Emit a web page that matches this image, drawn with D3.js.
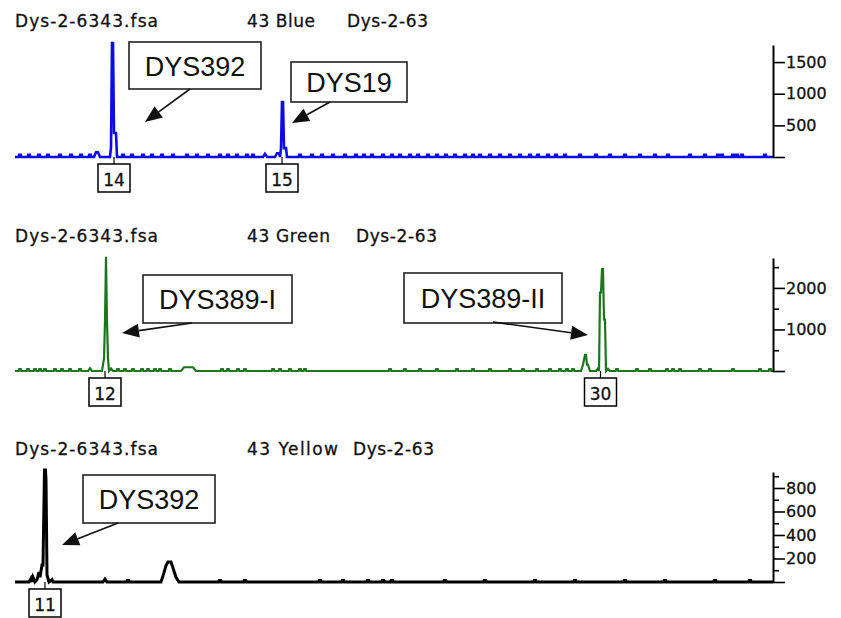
<!DOCTYPE html>
<html><head><meta charset="utf-8">
<script src="https://cdn.jsdelivr.net/npm/d3@7"></script>
<style>body{margin:0;background:#fff}</style>
</head><body><svg id="c" width="841" height="618"></svg>
<script>
// ---------------- DATA ----------------
const fileName = "Dys-2-6343.fsa";
const sampleName = "Dys-2-63";
const dyeNames = ["43 Blue", "43 Green", "43 Yellow"];

const blueMajorTicks = [500, 1000, 1500];
const blueMinorTicks = [];
const greenMajorTicks = [1000, 2000];
const greenMinorTicks = [500, 1500, 2500];
const yellowMajorTicks = [200, 400, 600, 800];
const yellowMinorTicks = [100, 300, 500, 700, 900];

const blueMax = 1770, greenMax = 2720, yellowMax = 936;
const scanMax = 758;

// peak groups: [scan, rfu]
const bluePeaks = [
  [[79,0],[81,75],[83,75],[85,0]],
  [[95,0],[96,150],[97,1800],[98,1800],[99,380],[101,380],[102,0]],
  [[248,0],[250,50],[252,0]],
  [[260,0],[262,60],[264,60],[265,0],[266,140],[267,870],[268,870],[269,140],[271,140],[272,0]]
];
const blueBlips = [5,14,24,33,45,56,66,75,108,117,128,137,147,158,172,182,193,205,213,222,232,238,
  285,297,307,318,330,341,349,357,368,377,385,395,403,413,422,431,440,450,458,465,475,485,495,505,515,
  523,533,541,550,565,581,595,610,625,640,653,675,690,703,707,718,722,727,750];

const greenPeaks = [
  [[73,0],[75,70],[77,0]],
  [[87,0],[89,300],[90,1190],[91,2750],[92,1190],[93,300],[94,0],[96,60],[98,0]],
  [[166,0],[169,90],[178,90],[181,0]],
  [[566,0],[568,150],[570,390],[571,390],[572,150],[573,150],[575,0]],
  [[581,0],[583,60],[584,0],[585,1890],[586,1890],[587,2450],[588,2450],[589,1240],[590,1240],[591,0],[593,50],[595,0]]
];
const greenBlips = [5,13,20,25,30,40,47,55,65,103,110,118,127,133,140,145,155,207,213,223,230,258,265,275,285,290,
  375,390,405,422,442,458,475,495,508,522,535,545,552,558,602,622,635,652,658,665,685,695,718,745,755];

const yellowPeaks = [
  [[14,0],[16,30],[17,0],[18,40],[20,0],[22,20],[24,85],[25,40],[27,145],[28,145],[29.5,953],[30.5,953],[31,870],[32,60],[34,0],[37,20],[38,0]],
  [[88,0],[90,25],[92,0]],
  [[146,0],[149,80],[151,140],[153,170],[156,170],[158,120],[161,40],[164,0]]
];
const yellowBlips = [113,205,230,305,328,353,368,377,430,470,520,560,610,650,700,735];

const blueAlleles = [{scan: 99, call: "14"}, {scan: 267, call: "15"}];
const greenAlleles = [{scan: 90, call: "12"}, {scan: 585.5, call: "30"}];
const yellowAlleles = [{scan: 30, call: "11"}];

const blueLoci = ["DYS392", "DYS19"];
const greenLoci = ["DYS389-I", "DYS389-II"];
const yellowLoci = ["DYS392"];

// ---------------- LAYOUT ----------------
const svg = d3.select("#c");
const x = d3.scaleLinear().domain([0, scanMax]).range([15, 773]);

const panels = [
  {dye: dyeNames[0], color: "#0c0ce6", sw: 2.6, max: blueMax, major: blueMajorTicks, minor: blueMinorTicks,
   peaks: bluePeaks, blips: blueBlips, blipVal: 35, alleles: blueAlleles, loci: blueLoci,
   base: 157, top: 45, titleY: 27, dyeLen: 68, sampleX: 347,
   boxes: [{x:129,y:42,w:132,h:47,a:[190,89,145,122]},{x:291,y:62,w:116,h:40,a:[330,102,292,123]}]},
  {dye: dyeNames[1], color: "#1c761c", sw: 2.2, max: greenMax, major: greenMajorTicks, minor: greenMinorTicks,
   peaks: greenPeaks, blips: greenBlips, blipVal: 45, alleles: greenAlleles, loci: greenLoci,
   base: 371, top: 258, titleY: 242, dyeLen: 83, sampleX: 356,
   boxes: [{x:143,y:275,w:149,h:48,a:[192,323,122,333]},{x:404,y:273,w:158,h:50,a:[493,322,588,335]}]},
  {dye: dyeNames[2], color: "#000000", sw: 3, max: yellowMax, major: yellowMajorTicks, minor: yellowMinorTicks,
   peaks: yellowPeaks, blips: yellowBlips, blipVal: 12, alleles: yellowAlleles, loci: yellowLoci,
   base: 582, top: 472, titleY: 455, dyeLen: 91, sampleX: 353,
   boxes: [{x:83,y:475,w:132,h:48,a:[118,523,62,545]}]}
];

function buildTrace(peaks, blips, v) {
  const pts = [[0,0],[scanMax,0]];
  peaks.forEach(g => g.forEach(p => pts.push(p)));
  const ranges = peaks.map(g => [g[0][0]-2, g[g.length-1][0]+2]);
  blips.forEach(b => {
    if (ranges.some(r => b >= r[0] && b <= r[1])) return;
    pts.push([b-1.3,0],[b-0.8,v],[b+0.8,v],[b+1.3,0]);
  });
  pts.sort((a,b) => a[0]-b[0]);
  return pts;
}

const titleFont = "DejaVu Sans, sans-serif";

panels.forEach(p => {
  const g = svg.append("g");
  const y = d3.scaleLinear().domain([0, p.max]).range([p.base, p.top]);

  // titles
  const t = g.append("g").attr("font-family", titleFont).attr("font-size", 17).attr("fill", "#111")
    .attr("stroke", "#111").attr("stroke-width", 0.3);
  t.append("text").attr("x", 15).attr("y", p.titleY).attr("textLength", 143).attr("lengthAdjust", "spacing").text(fileName);
  t.append("text").attr("x", 247).attr("y", p.titleY).attr("textLength", p.dyeLen).attr("lengthAdjust", "spacing").text(p.dye);
  t.append("text").attr("x", p.sampleX).attr("y", p.titleY).attr("textLength", 81).attr("lengthAdjust", "spacing").text(sampleName);

  // trace
  const pts = buildTrace(p.peaks, p.blips, p.blipVal);
  const line = d3.line().x(d => x(d[0])).y(d => y(d[1]));
  g.append("path").datum(pts).attr("d", line).attr("fill", "none")
    .attr("stroke", p.color).attr("stroke-width", p.sw).attr("stroke-linejoin", "miter");

  // axis
  const ax = g.append("g").attr("transform", "translate(773,0)")
    .call(d3.axisRight(y).tickValues([0, ...p.major]).tickSize(12).tickSizeOuter(0).tickPadding(1)
      .tickFormat(d => d === 0 ? "" : d));
  ax.select(".domain").attr("stroke", "#000").attr("stroke-width", 2);
  ax.selectAll(".tick line").attr("stroke", "#000").attr("stroke-width", 1.6);
  ax.selectAll(".tick text").attr("font-family", titleFont).attr("font-size", 16).attr("fill", "#111")
    .attr("stroke", "#111").attr("stroke-width", 0.3);
  if (p.minor.length) {
    const mx = g.append("g").attr("transform", "translate(773,0)")
      .call(d3.axisRight(y).tickValues(p.minor).tickSize(6).tickFormat(""));
    mx.select(".domain").remove();
    mx.selectAll(".tick line").attr("stroke", "#000").attr("stroke-width", 1.6);
  }

  // allele call boxes
  p.alleles.forEach(a => {
    const cx = x(a.scan);
    g.append("line").attr("x1", cx).attr("x2", cx).attr("y1", p.base).attr("y2", p.base + 7)
      .attr("stroke", "#000").attr("stroke-width", 1.2);
    g.append("rect").attr("x", cx - 16).attr("y", p.base + 7).attr("width", 32).attr("height", 28)
      .attr("fill", "#fff").attr("stroke", "#000").attr("stroke-width", 1.5);
    g.append("text").attr("x", cx).attr("y", p.base + 29).attr("text-anchor", "middle")
      .attr("font-family", titleFont).attr("font-size", 17).attr("fill", "#111")
      .attr("stroke", "#111").attr("stroke-width", 0.3).text(a.call);
  });

  // locus callouts
  p.loci.forEach((name, i) => {
    const b = p.boxes[i];
    g.append("rect").attr("x", b.x).attr("y", b.y).attr("width", b.w).attr("height", b.h)
      .attr("fill", "#fff").attr("stroke", "#222").attr("stroke-width", 1.6);
    g.append("text").attr("x", b.x + b.w/2).attr("y", b.y + b.h/2 + 10).attr("text-anchor", "middle")
      .attr("font-family", "Liberation Sans, Arial, sans-serif").attr("font-size", 27).attr("fill", "#111").text(name);
    const [x1,y1,x2,y2] = b.a;
    const ang = Math.atan2(y2-y1, x2-x1), L = 17, Wd = 7;
    const bx = x2 - L*Math.cos(ang), by = y2 - L*Math.sin(ang);
    g.append("line").attr("x1", x1).attr("y1", y1).attr("x2", bx).attr("y2", by)
      .attr("stroke", "#111").attr("stroke-width", 1.6);
    const px = -Math.sin(ang)*Wd, py = Math.cos(ang)*Wd;
    g.append("path").attr("d", `M${x2},${y2}L${bx+px},${by+py}L${bx-px},${by-py}Z`).attr("fill", "#111");
  });
});
</script>
</body></html>
